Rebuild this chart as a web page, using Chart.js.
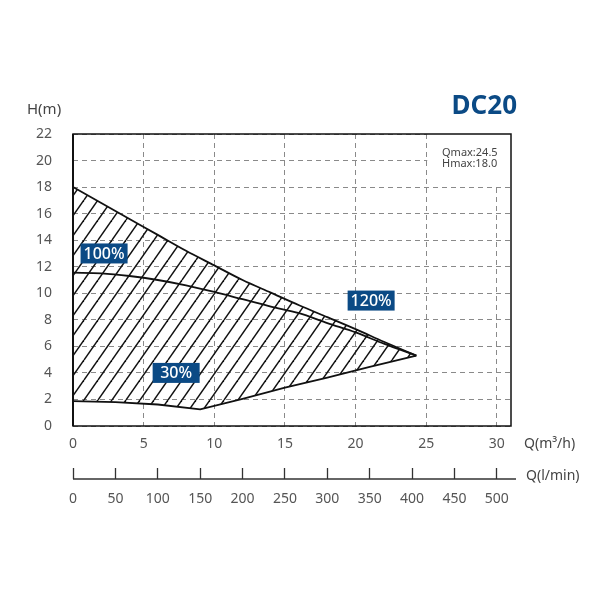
<!DOCTYPE html>
<html>
<head>
<meta charset="utf-8">
<script src="https://cdn.jsdelivr.net/npm/chart.js@4.4.0/dist/chart.umd.min.js"></script>
<style>
  html, body { margin: 0; padding: 0; background: #fff; }
  #wrap { width: 600px; height: 600px; }
</style>
</head>
<body>
<div id="wrap"><canvas id="pump" width="600" height="600"></canvas></div>
<script>
// Q in m3/h, H in m
const topQ = [0, 2, 4, 6, 8, 10, 12, 14, 16, 18, 20, 22, 24.3];
const topH = [18.0, 16.8, 15.6, 14.4, 13.2, 12.1, 11.0, 10.05, 9.1, 8.2, 7.3, 6.35, 5.3];
const midQ = [0, 2, 4, 6, 8, 10, 12, 14, 16, 18, 20, 22, 24.3];
const midH = [11.55, 11.5, 11.3, 11.0, 10.6, 10.1, 9.55, 9.0, 8.5, 7.75, 7.05, 6.2, 5.3];
const lowQ = [0, 3, 6, 9, 12, 15, 18, 21, 24.3];
const lowH = [1.88, 1.8, 1.62, 1.25, 2.05, 2.9, 3.65, 4.45, 5.3];

const qTicks = [0, 5, 10, 15, 20, 25, 30];
const lTicks = [0, 50, 100, 150, 200, 250, 300, 350, 400, 450, 500];
const hTicks = [0, 2, 4, 6, 8, 10, 12, 14, 16, 18, 20, 22];

const tagText = ['100%', '30%', '120%'];
const tagQ = [2.2, 7.3, 21.1];
const tagH = [13.0, 4.0, 9.45];

const qMax = 31;            // m3/h axis end
const hMax = 22;
const lminPerM3h = 500 / 30;

const BLUE = '#0b4a85';
const FONT = '"Noto Sans", sans-serif';

const pts = (xs, ys) => xs.map((v, i) => ({ x: v, y: ys[i] }));
const asTicks = arr => arr.map(v => ({ value: v }));

// diagonal hatch pattern
function hatch() {
  const w = 14, h = 20;
  const c = document.createElement('canvas');
  c.width = w; c.height = h;
  const g = c.getContext('2d');
  g.strokeStyle = '#111';
  g.lineWidth = 1.5;
  for (let k = -1; k <= 1; k++) {
    g.beginPath();
    g.moveTo(k * w, h);
    g.lineTo(k * w + w, 0);
    g.stroke();
  }
  return g.createPattern(c, 'repeat');
}

const decor = {
  id: 'decor',
  afterDatasetsDraw(chart) {
    const { ctx, chartArea: a, scales } = chart;
    const x = scales.x, y = scales.y, x2 = scales.x2;
    ctx.save();

    // blank corner behind the note
    const nx = x.getPixelForValue(25) + 1;
    ctx.fillStyle = '#fff';
    ctx.fillRect(nx, a.top, a.right - nx, y.getPixelForValue(18) - 1 - a.top);

    // plot frame
    ctx.strokeStyle = '#111';
    ctx.lineWidth = 1.5;
    ctx.strokeRect(a.left, a.top, a.right - a.left, a.bottom - a.top);
    ctx.lineWidth = 2;
    ctx.beginPath();
    ctx.moveTo(a.left, a.top);
    ctx.lineTo(a.left, a.bottom);
    ctx.stroke();

    // l/min axis line
    const ly = x2.top + 11;
    ctx.strokeStyle = '#333';
    ctx.lineWidth = 1.3;
    ctx.beginPath();
    ctx.moveTo(x2.left, ly);
    ctx.lineTo(x2.right + 5, ly);
    ctx.stroke();

    // tags
    ctx.textAlign = 'center';
    ctx.textBaseline = 'middle';
    ctx.font = '500 16px ' + FONT;
    tagText.forEach((t, i) => {
      const cx = x.getPixelForValue(tagQ[i]);
      const cy = y.getPixelForValue(tagH[i]);
      ctx.fillStyle = BLUE;
      ctx.fillRect(cx - 23.5, cy - 10, 47, 20);
      ctx.fillStyle = '#fff';
      ctx.fillText(t, cx, cy + 1);
    });

    // texts
    ctx.fillStyle = '#444';
    ctx.textAlign = 'left';
    ctx.font = '11px ' + FONT;
    ctx.fillText('Qmax:24.5', 442, 153);
    ctx.fillText('Hmax:18.0', 442, 164);

    ctx.font = '15px ' + FONT;
    ctx.fillText('H(m)', 27, 110);
    ctx.font = '14px ' + FONT;
    ctx.fillText('Q(m³/h)', 524, 444);
    ctx.fillText('Q(l/min)', 526, 476);

    ctx.fillStyle = BLUE;
    ctx.textAlign = 'right';
    ctx.textBaseline = 'alphabetic';
    ctx.font = 'bold 26px ' + FONT;
    ctx.fillText('DC20', 517, 114);

    ctx.restore();
  }
};

const ctx = document.getElementById('pump').getContext('2d');
const chart = new Chart(ctx, {
  type: 'line',
  data: {
    datasets: [
      {
        label: 'envelope',
        data: pts(topQ, topH),
        borderColor: '#111',
        borderWidth: 1.8,
        backgroundColor: hatch(),
        fill: 2,
        cubicInterpolationMode: 'monotone',
        pointRadius: 0
      },
      {
        label: 'mid',
        data: pts(midQ, midH),
        borderColor: '#111',
        borderWidth: 1.8,
        fill: false,
        cubicInterpolationMode: 'monotone',
        pointRadius: 0
      },
      {
        label: 'low',
        data: pts(lowQ, lowH),
        borderColor: '#111',
        borderWidth: 1.8,
        fill: false,
        tension: 0,
        pointRadius: 0
      }
    ]
  },
  options: {
    responsive: false,
    animation: false,
    devicePixelRatio: 1,
    layout: { padding: { left: 0, top: 134, right: 89, bottom: 82 } },
    plugins: { legend: { display: false }, tooltip: { enabled: false } },
    scales: {
      x: {
        type: 'linear',
        min: 0,
        max: qMax,
        position: 'bottom',
        afterBuildTicks: s => { s.ticks = asTicks(qTicks); },
        afterFit: s => { s.height = 42; },
        ticks: { autoSkip: false, maxRotation: 0, padding: 10, color: '#555', font: { size: 14, family: FONT } },
        grid: { color: '#8a8a8a', lineWidth: 1, drawTicks: false },
        border: { display: false, dash: [5, 4] }
      },
      x2: {
        type: 'linear',
        min: 0,
        max: qMax * lminPerM3h,
        position: 'bottom',
        afterBuildTicks: s => { s.ticks = asTicks(lTicks); },
        afterFit: s => { s.height = 50; },
        ticks: { autoSkip: false, maxRotation: 0, padding: 12, color: '#555', font: { size: 14, family: FONT } },
        grid: { drawOnChartArea: false, drawTicks: true, tickLength: 11, tickColor: '#333', tickWidth: 1.3 },
        border: { display: false }
      },
      y: {
        min: 0,
        max: hMax,
        afterBuildTicks: s => { s.ticks = asTicks(hTicks); },
        afterFit: s => { s.width = 73; },
        ticks: { autoSkip: false, padding: 21, color: '#555', font: { size: 14, family: FONT } },
        grid: { color: '#8a8a8a', lineWidth: 1, drawTicks: false },
        border: { display: false, dash: [5, 4] }
      }
    }
  },
  plugins: [decor]
});
</script>
</body>
</html>
